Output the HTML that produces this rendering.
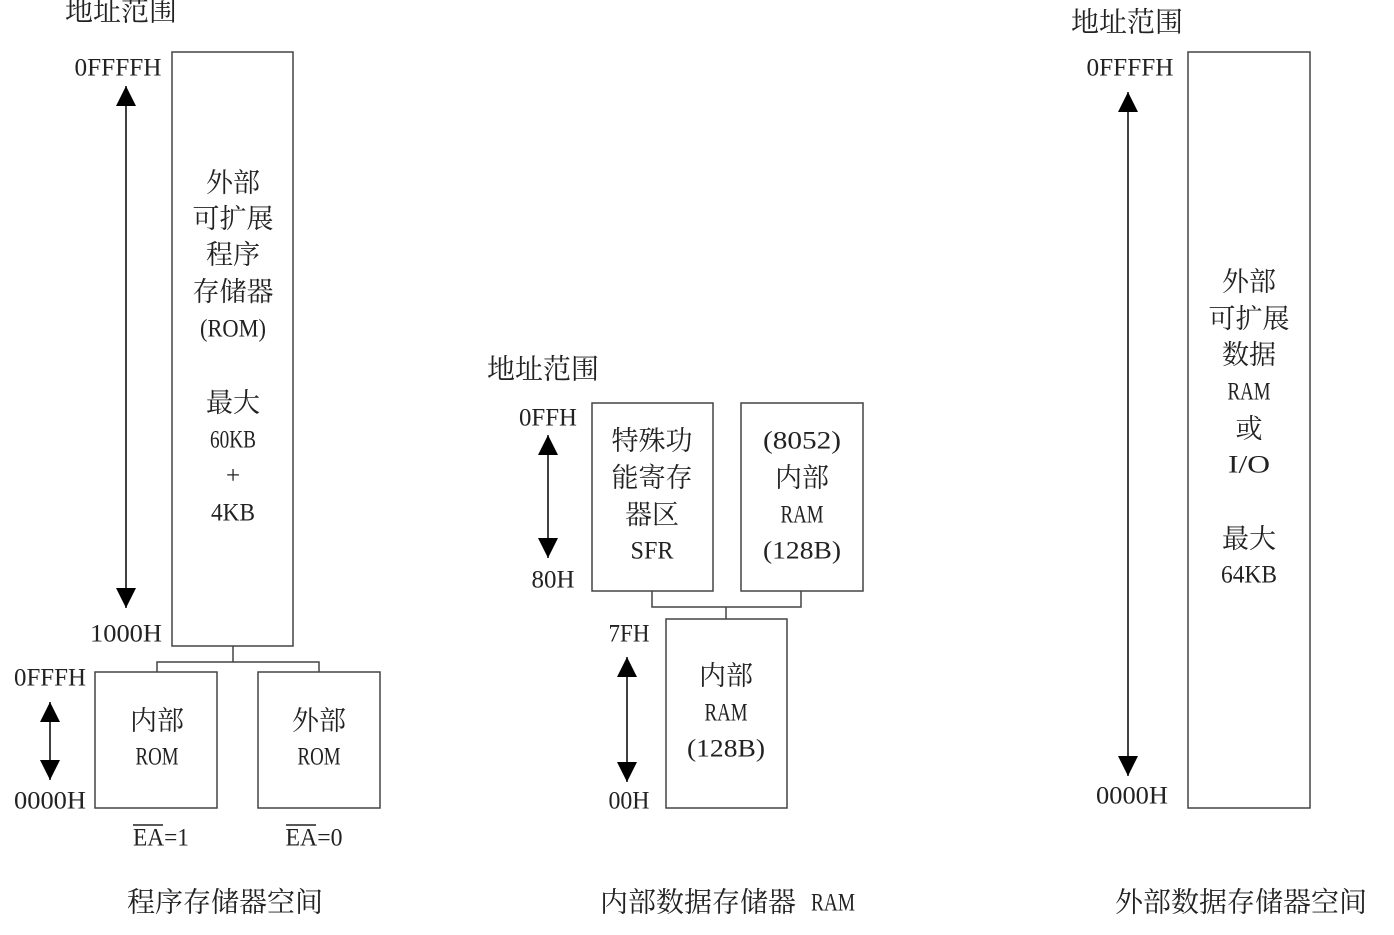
<!DOCTYPE html>
<html><head><meta charset="utf-8"><style>
html,body{margin:0;padding:0;background:#fff;}
svg{display:block;}
text{font-family:"Liberation Serif","Noto Serif CJK SC",serif;fill:#222;dominant-baseline:central;}
.c{font-size:27px;text-anchor:middle;}
.t{font-size:28px;text-anchor:middle;}
.l{font-size:25px;text-anchor:middle;}
</style></head><body>
<svg width="1394" height="935" viewBox="0 0 1394 935" xmlns="http://www.w3.org/2000/svg">
<defs>
<marker id="b" viewBox="0 0 10 10" refX="10" refY="5" markerWidth="22" markerHeight="20" markerUnits="userSpaceOnUse" orient="auto-start-reverse"><path d="M0,0 L10,5 L0,10 z" fill="#000"/></marker>
</defs>
<g fill="none" stroke="#444" stroke-width="1.5">
<rect x="172" y="52" width="121" height="594"/>
<rect x="95" y="672" width="122" height="136"/>
<rect x="258" y="672" width="122" height="136"/>
<polyline points="233,646 233,662"/><polyline points="157,672 157,662 319,662 319,672"/>
<rect x="592" y="403" width="121" height="188"/>
<rect x="741" y="403" width="122" height="188"/>
<rect x="666" y="619" width="121" height="189"/>
<polyline points="652,591 652,607 801,607 801,591"/><polyline points="726,607 726,619"/>
<rect x="1188" y="52" width="122" height="756"/>
</g>
<g stroke="#000" stroke-width="1.5">
<line x1="126" y1="86" x2="126" y2="608" marker-start="url(#b)" marker-end="url(#b)"/>
<line x1="50" y1="702" x2="50" y2="780" marker-start="url(#b)" marker-end="url(#b)"/>
<line x1="548" y1="435" x2="548" y2="558" marker-start="url(#b)" marker-end="url(#b)"/>
<line x1="627" y1="657" x2="627" y2="782" marker-start="url(#b)" marker-end="url(#b)"/>
<line x1="1128" y1="92" x2="1128" y2="776" marker-start="url(#b)" marker-end="url(#b)"/>
</g>
<!-- left -->
<text class="t" x="121" y="12">地址范围</text>
<text class="l" x="118" y="68" textLength="87" lengthAdjust="spacingAndGlyphs">0FFFFH</text>
<text class="l" x="126" y="634" textLength="72" lengthAdjust="spacingAndGlyphs">1000H</text>
<text class="c" x="233" y="183">外部</text>
<text class="c" x="233" y="219">可扩展</text>
<text class="c" x="233" y="255">程序</text>
<text class="c" x="233" y="292">存储器</text>
<text class="l" x="233" y="329" textLength="66" lengthAdjust="spacingAndGlyphs">(ROM)</text>
<text class="c" x="233" y="403">最大</text>
<text class="l" x="233" y="440" textLength="46" lengthAdjust="spacingAndGlyphs">60KB</text>
<text class="l" x="233" y="476">+</text>
<text class="l" x="233" y="513" textLength="44" lengthAdjust="spacingAndGlyphs">4KB</text>
<text class="l" x="50" y="678" textLength="72" lengthAdjust="spacingAndGlyphs">0FFFH</text>
<text class="l" x="50" y="801" textLength="72" lengthAdjust="spacingAndGlyphs">0000H</text>
<text class="c" x="157" y="721">内部</text>
<text class="l" x="157" y="757" textLength="43" lengthAdjust="spacingAndGlyphs">ROM</text>
<text class="c" x="319" y="721">外部</text>
<text class="l" x="319" y="757" textLength="43" lengthAdjust="spacingAndGlyphs">ROM</text>
<text class="l" x="161" y="838" textLength="56" lengthAdjust="spacingAndGlyphs">EA=1</text>
<line x1="133" y1="825" x2="163" y2="825" stroke="#222" stroke-width="1.5"/>
<text class="l" x="314" y="838" textLength="57" lengthAdjust="spacingAndGlyphs">EA=0</text>
<line x1="286" y1="825" x2="316" y2="825" stroke="#222" stroke-width="1.5"/>
<text class="t" x="225" y="903">程序存储器空间</text>
<!-- middle -->
<text class="t" x="543" y="370">地址范围</text>
<text class="l" x="548" y="418" textLength="58" lengthAdjust="spacingAndGlyphs">0FFH</text>
<text class="l" x="553" y="580" textLength="43" lengthAdjust="spacingAndGlyphs">80H</text>
<text class="c" x="652" y="441">特殊功</text>
<text class="c" x="652" y="478">能寄存</text>
<text class="c" x="652" y="515">器区</text>
<text class="l" x="652" y="551" textLength="43" lengthAdjust="spacingAndGlyphs">SFR</text>
<text class="l" x="802" y="441" textLength="78" lengthAdjust="spacingAndGlyphs">(8052)</text>
<text class="c" x="802" y="478">内部</text>
<text class="l" x="802" y="515" textLength="43" lengthAdjust="spacingAndGlyphs">RAM</text>
<text class="l" x="802" y="551" textLength="78" lengthAdjust="spacingAndGlyphs">(128B)</text>
<text class="l" x="629" y="634" textLength="41" lengthAdjust="spacingAndGlyphs">7FH</text>
<text class="l" x="629" y="801" textLength="41" lengthAdjust="spacingAndGlyphs">00H</text>
<text class="c" x="726" y="676">内部</text>
<text class="l" x="726" y="713" textLength="43" lengthAdjust="spacingAndGlyphs">RAM</text>
<text class="l" x="726" y="749" textLength="78" lengthAdjust="spacingAndGlyphs">(128B)</text>
<text class="t" x="698" y="903">内部数据存储器</text>
<text class="l" x="833" y="903" textLength="44" lengthAdjust="spacingAndGlyphs">RAM</text>
<!-- right -->
<text class="t" x="1127" y="23">地址范围</text>
<text class="l" x="1130" y="68" textLength="87" lengthAdjust="spacingAndGlyphs">0FFFFH</text>
<text class="l" x="1132" y="796" textLength="72" lengthAdjust="spacingAndGlyphs">0000H</text>
<text class="c" x="1249" y="282">外部</text>
<text class="c" x="1249" y="319">可扩展</text>
<text class="c" x="1249" y="355">数据</text>
<text class="l" x="1249" y="392" textLength="43" lengthAdjust="spacingAndGlyphs">RAM</text>
<text class="c" x="1249" y="429">或</text>
<text class="l" x="1249" y="465" textLength="42" lengthAdjust="spacingAndGlyphs">I/O</text>
<text class="c" x="1249" y="539">最大</text>
<text class="l" x="1249" y="575" textLength="56" lengthAdjust="spacingAndGlyphs">64KB</text>
<text class="t" x="1241" y="903">外部数据存储器空间</text>
</svg>
</body></html>
